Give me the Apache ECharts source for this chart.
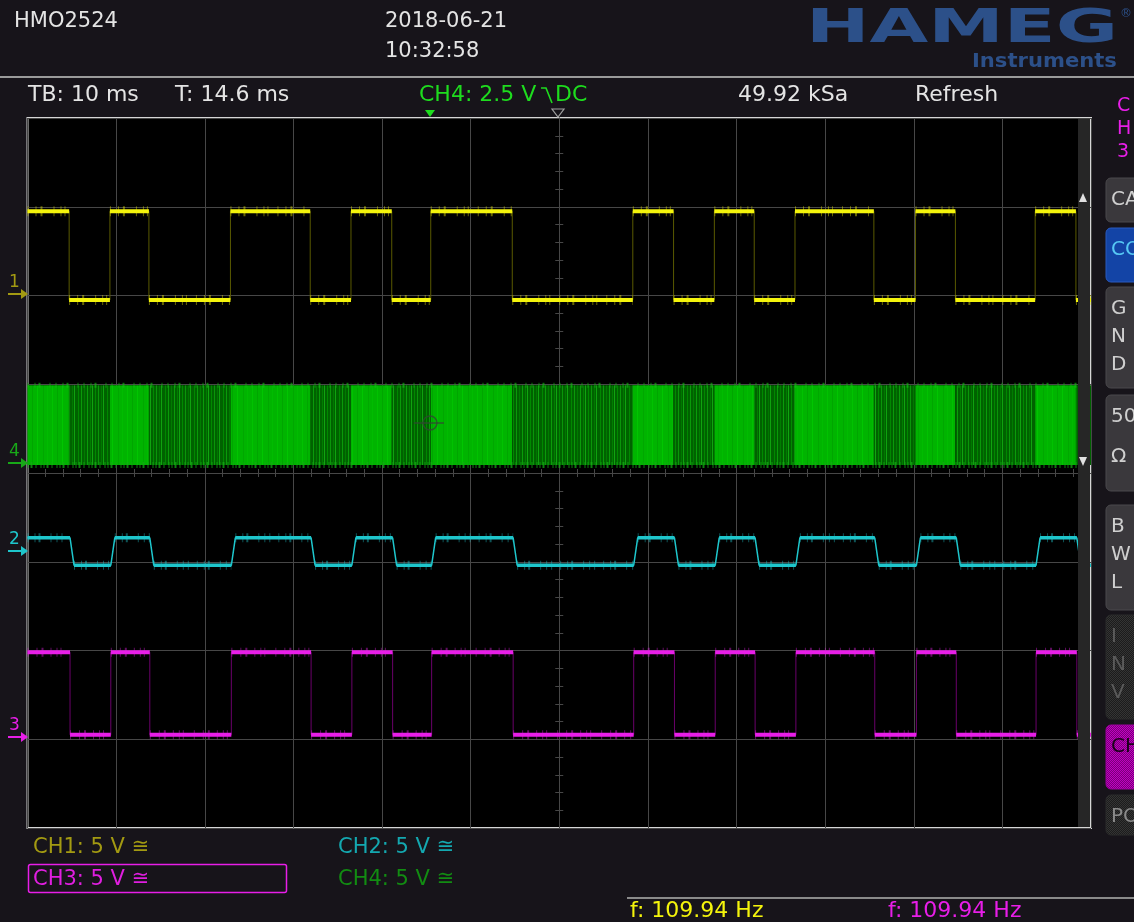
<!DOCTYPE html>
<html>
<head>
<meta charset="utf-8">
<script src="https://cdn.jsdelivr.net/npm/echarts@6/dist/echarts.min.js"></script>
<style>
  html, body { margin: 0; padding: 0; background: #17141a; }
  #scope { width: 1134px; height: 922px; }
</style>
</head>
<body>
<div id="scope"></div>
<script>
// ---- acquisition window (time in ms relative to the trigger) ----
const timeStartMs = -45.4;
const timeEndMs = 74.6;
const gridDivsX = [-6, 6];
const gridDivsY = [-4, 4];

// ---- CH1 (yellow): edge times in ms, levels in screen divisions [high, low] ----
const ch1Edges = [-40.7, -36.1, -31.7, -22.5, -13.5, -8.9, -4.3, 0.1, 9.3, 22.9, 27.5, 32.1, 36.6, 41.2, 50.1, 54.8, 59.3, 68.3, 72.9];
const ch1Levels = [2.95, 1.95];
const ch1StartsHigh = true;

// ---- CH2 (cyan): filtered copy, finite slew ----
const ch2Edges = [-40.6, -36.0, -31.6, -22.4, -13.4, -8.8, -4.2, 0.2, 9.4, 23.0, 27.6, 32.2, 36.7, 41.3, 50.2, 54.9, 59.4, 68.4, 73.0];
const ch2Levels = [-0.73, -1.04];
const ch2StartsHigh = true;
const ch2SlewMs = 0.45;

// ---- CH3 (magenta) ----
const ch3Edges = [-40.6, -36.0, -31.6, -22.4, -13.4, -8.8, -4.2, 0.2, 9.4, 23.0, 27.6, 32.2, 36.7, 41.3, 50.2, 54.9, 59.4, 68.4, 73.0];
const ch3Levels = [-2.02, -2.95];
const ch3StartsHigh = true;

// ---- CH4 (green): carrier bursts, band [bottom, top] in divisions ----
const ch4Edges = [-40.7, -36.1, -31.7, -22.5, -13.5, -8.9, -4.3, 0.1, 9.3, 22.9, 27.5, 32.1, 36.6, 41.2, 50.1, 54.8, 59.3, 68.3, 72.9];
const ch4Band = [0.09, 0.99];
const ch4StartsSparse = true;

// ---- readouts ----
const headerModel = 'HMO2524';
const headerDate = '2018-06-21';
const headerTime = '10:32:58';
const readTimebase = 'TB: 10 ms';
const readTrigOffset = 'T: 14.6 ms';
const readTrigSource = 'CH4: 2.5 V';
const readCoupling = 'DC';
const readSampleRate = '49.92 kSa';
const readMode = 'Refresh';
const channelScales = ['CH1: 5 V \u2245', 'CH2: 5 V \u2245', 'CH3: 5 V \u2245', 'CH4: 5 V \u2245'];
const freqReadouts = ['f: 109.94 Hz', 'f: 109.94 Hz'];

// ---- colours ----
const COL = {
  bg: '#17141a', plot: '#000000', grid: '#474747', frame: '#d6d6d6', text: '#e4e4e4',
  ch1: '#f4f40c', ch1Dim: '#5a5a00', ch1Label: '#a39a12',
  ch2: '#1ec6cc', ch2Label: '#14a8b0',
  ch3: '#e81ee8', ch3Dim: '#6a006a', ch3Label: '#e01ee0',
  ch4Head: '#1edc1e', ch4Label: '#128c12', ch4Marker: '#18a818',
  brand: '#2c5089'
};

// split an edge list into constant-level segments
function toSegments(edges, startsHigh) {
  const b = [timeStartMs].concat(edges, [timeEndMs]);
  const segs = [];
  for (let i = 0; i < b.length - 1; i++) {
    segs.push({ from: b[i], to: b[i + 1], high: (i % 2 === 0) === startsHigh });
  }
  return segs;
}
function stepPoints(segs, levels, slew) {
  const pts = [];
  segs.forEach(function (s, i) {
    const y = s.high ? levels[0] : levels[1];
    pts.push([i === 0 ? s.from : s.from + slew, y], [s.to, y]);
  });
  return pts;
}
function levelPoints(segs, levels, slew) {
  const pts = [];
  segs.forEach(function (s, i) {
    const y = s.high ? levels[0] : levels[1];
    pts.push([i === 0 ? s.from : s.from + slew, y], [s.to, y], [s.to, '-']);
  });
  return pts;
}

const ch1Segs = toSegments(ch1Edges, ch1StartsHigh);
const ch2Segs = toSegments(ch2Edges, ch2StartsHigh);
const ch3Segs = toSegments(ch3Edges, ch3StartsHigh);
const ch4Segs = toSegments(ch4Edges, !ch4StartsSparse);

// stripe tiles that give the carrier bursts their texture
function stripeTile(base, stripes, width) {
  const c = document.createElement('canvas');
  c.width = width; c.height = 8;
  const g = c.getContext('2d');
  g.fillStyle = base; g.fillRect(0, 0, width, 8);
  stripes.forEach(function (s) { g.fillStyle = s[2]; g.fillRect(s[0], 0, s[1], 8); });
  return c;
}
function checkerTile(a, b) {
  const c = document.createElement('canvas');
  c.width = 2; c.height = 2;
  const g = c.getContext('2d');
  g.fillStyle = a; g.fillRect(0, 0, 2, 2);
  g.fillStyle = b; g.fillRect(0, 0, 1, 1); g.fillRect(1, 1, 1, 1);
  return c;
}
const sparseFill = { image: stripeTile('#006200', [[0,1,'#0a9c0a'],[3,1,'#007e00'],[5,1,'#10a410'],[8,1,'#008a00'],[11,1,'#0a960a'],[14,1,'#007800'],[16,1,'#0fa20f'],[20,1,'#008800'],[23,1,'#0a9a0a'],[26,1,'#007c00']], 29), repeat: 'repeat' };
const denseFill = { image: stripeTile('#00b400', [[2,1,'#00c200'],[7,1,'#00a600'],[12,1,'#00c600'],[18,1,'#00a800'],[22,1,'#00bc00']], 25), repeat: 'repeat' };
const dotGrey = { image: checkerTile('#1c1c1c', '#343434'), repeat: 'repeat' };
const dotMagenta = { image: checkerTile('#7a007a', '#c000c0'), repeat: 'repeat' };

const lineBase = {
  type: 'line', xAxisIndex: 2, yAxisIndex: 0, symbol: 'none', silent: true,
  animation: false, connectNulls: false, clip: true, emphasis: { disabled: true }
};
function lineSeries(name, data, color, width, extra) {
  return Object.assign({}, lineBase, { name: name, data: data, lineStyle: Object.assign({ color: color, width: width }, extra || {}) });
}

const series = [
  {
    name: 'CH4 band', type: 'custom', xAxisIndex: 2, yAxisIndex: 0, silent: true, animation: false,
    encode: { x: [0, 1], y: 2 },
    data: ch4Segs.map(function (s) { return [s.from, s.to, s.high ? 0 : 1]; }),
    renderItem: function (params, api) {
      const a = api.coord([api.value(0), ch4Band[1]]);
      const b = api.coord([api.value(1), ch4Band[0]]);
      return { type: 'rect', shape: { x: a[0], y: a[1], width: b[0] - a[0], height: b[1] - a[1] },
               style: { fill: api.value(2) ? denseFill : sparseFill } };
    }
  },
  lineSeries('CH4 top', [[timeStartMs, ch4Band[1]], [timeEndMs, ch4Band[1]]], 'rgba(20,190,20,0.6)', 5, { type: [1, 6, 1, 3, 2, 9, 1, 5] }),
  lineSeries('CH4 bottom', [[timeStartMs, ch4Band[0]], [timeEndMs, ch4Band[0]]], 'rgba(20,170,20,0.75)', 6, { type: [1, 2, 2, 3, 1, 4, 1, 2] }),

  lineSeries('CH1 edges', stepPoints(ch1Segs, ch1Levels, 0), COL.ch1Dim, 1),
  lineSeries('CH1 noise', levelPoints(ch1Segs, ch1Levels, 0), 'rgba(240,240,10,0.42)', 10, { type: [1, 7, 1, 4, 2, 11, 1, 6, 1, 3, 1, 9] }),
  lineSeries('CH1', levelPoints(ch1Segs, ch1Levels, 0), COL.ch1, 4),

  lineSeries('CH2 edges', stepPoints(ch2Segs, ch2Levels, ch2SlewMs), COL.ch2, 1.5),
  lineSeries('CH2 noise', levelPoints(ch2Segs, ch2Levels, ch2SlewMs), 'rgba(30,198,204,0.42)', 9, { type: [1, 6, 1, 3, 2, 10, 1, 5, 1, 4, 1, 8] }),
  lineSeries('CH2', levelPoints(ch2Segs, ch2Levels, ch2SlewMs), COL.ch2, 3.5),

  lineSeries('CH3 edges', stepPoints(ch3Segs, ch3Levels, 0), COL.ch3Dim, 1),
  lineSeries('CH3 noise', levelPoints(ch3Segs, ch3Levels, 0), 'rgba(232,30,232,0.42)', 9, { type: [1, 8, 1, 4, 2, 7, 1, 5, 1, 3, 1, 10] }),
  lineSeries('CH3', levelPoints(ch3Segs, ch3Levels, 0), COL.ch3, 4)
];

const divAxisCommon = {
  type: 'value', interval: 1, silent: true,
  axisLabel: { show: false },
  axisLine: { show: true, onZero: true, onZeroAxisIndex: 0, lineStyle: { color: COL.grid, width: 1 } },
  axisTick: { show: true, length: 4, lineStyle: { color: COL.grid } },
  minorTick: { show: true, splitNumber: 5, length: 4, lineStyle: { color: COL.grid } }
};

// ---- screen furniture ----
const FONT = 'DejaVu Sans';
function txt(x, y, text, fill, size, extra) {
  return Object.assign({ type: 'text', x: x, y: y, z: 30, silent: true,
    style: { text: text, fill: fill, fontFamily: FONT, fontSize: size, verticalAlign: 'middle', align: 'left' } }, extra || {});
}
function rect(x, y, w, h, fill, extra) {
  return Object.assign({ type: 'rect', z: 25, silent: true, shape: { x: x, y: y, width: w, height: h }, style: { fill: fill } }, extra || {});
}
function chanMarker(label, y, color) {
  return [
    txt(9, y - 11, label, color, 17),
    { type: 'polyline', z: 30, silent: true, shape: { points: [[8, y], [24, y]] }, style: { stroke: color, lineWidth: 2 } },
    { type: 'polygon', z: 30, silent: true, shape: { points: [[21, y - 5], [28, y], [21, y + 5]] }, style: { fill: color } }
  ];
}
function button(y, h, fill, stroke, lines, textFill, step) {
  const els = [rect(1106, y, 40, h, fill, { shape: { x: 1106, y: y, width: 40, height: h, r: 5 }, style: { fill: fill, stroke: stroke, lineWidth: 1 } })];
  lines.forEach(function (t, i) { els.push(txt(1111, y + 22 + i * step, t, textFill, 20)); });
  return els;
}

const graphic = [
  // header
  txt(14, 22, headerModel, COL.text, 21),
  txt(385, 22, headerDate, COL.text, 21),
  txt(385, 52, headerTime, COL.text, 21),
  txt(806, 30, 'HAMEG', COL.brand, 46, { scaleX: 1.65, style: { text: 'HAMEG', fill: COL.brand, fontFamily: FONT, fontSize: 46, fontWeight: 'bold', verticalAlign: 'middle' } }),
  txt(1120, 14, '\u00ae', COL.brand, 12),
  txt(972, 62, 'Instruments', COL.brand, 19, { scaleX: 1.11, style: { text: 'Instruments', fill: COL.brand, fontFamily: FONT, fontSize: 19, fontWeight: 'bold', verticalAlign: 'middle' } }),
  rect(0, 76, 1134, 2, '#9a9a9a'),

  // info line
  txt(28, 95, readTimebase, COL.text, 22),
  txt(175, 95, readTrigOffset, COL.text, 22),
  txt(419, 95, readTrigSource, COL.ch4Head, 22),
  { type: 'polyline', z: 30, silent: true, shape: { points: [[541, 88], [546, 88], [552, 103]] }, style: { stroke: COL.ch4Head, lineWidth: 1.6, fill: null } },
  txt(555, 95, readCoupling, COL.ch4Head, 22),
  txt(738, 95, readSampleRate, COL.text, 22),
  txt(915, 95, readMode, COL.text, 22),
  txt(1117, 106, 'C', COL.ch3, 19),
  txt(1117, 129, 'H', COL.ch3, 19),
  txt(1117, 152, '3', COL.ch3, 19),

  // trigger position / centre markers above the graticule
  { type: 'polygon', z: 30, silent: true, shape: { points: [[425, 110], [435, 110], [430, 117]] }, style: { fill: COL.ch4Head } },
  { type: 'polygon', z: 30, silent: true, shape: { points: [[552, 109], [564, 109], [558, 117]] }, style: { fill: null, stroke: '#a0a0a0', lineWidth: 1.2 } },

  // trigger level marker on CH4
  { type: 'circle', z: 30, silent: true, shape: { cx: 430, cy: 423, r: 7 }, style: { fill: null, stroke: 'rgba(50,70,50,0.8)', lineWidth: 1.5 } },
  { type: 'polyline', z: 30, silent: true, shape: { points: [[414, 423], [444, 423]] }, style: { stroke: 'rgba(50,70,50,0.8)', lineWidth: 1.5 } },

  // right-hand scroll strip inside the graticule
  rect(1078, 119, 12, 708, '#262626'),
  { type: 'polygon', z: 30, silent: true, shape: { points: [[1079, 202], [1087, 202], [1083, 193]] }, style: { fill: '#e0e0e0' } },
  { type: 'polygon', z: 30, silent: true, shape: { points: [[1079, 457], [1087, 457], [1083, 466]] }, style: { fill: '#e0e0e0' } }
]
.concat(chanMarker('1', 294, COL.ch1Label))
.concat(chanMarker('4', 463, COL.ch4Marker))
.concat(chanMarker('2', 551, COL.ch2))
.concat(chanMarker('3', 737, COL.ch3))
// side soft-key menu
.concat(button(178, 44, '#3a383c', '#4a484c', ['CA'], '#cfcfcf', 0))
.concat(button(228, 54, '#1344a6', '#2a5ac0', ['CO'], '#56c8f4', 0))
.concat(button(287, 101, '#3a383c', '#4a484c', ['G', 'N', 'D'], '#cfcfcf', 28))
.concat(button(395, 96, '#3a383c', '#4a484c', ['50', '\u03a9'], '#cfcfcf', 40))
.concat(button(505, 105, '#3a383c', '#4a484c', ['B', 'W', 'L'], '#cfcfcf', 28))
.concat(button(615, 104, dotGrey, '#2a2a2a', ['I', 'N', 'V'], '#5a5a5a', 28))
.concat(button(725, 64, dotMagenta, '#9a009a', ['CH'], '#1a001a', 0))
.concat(button(795, 40, dotGrey, '#2a2a2a', ['PO'], '#8a8a8a', 0))
.concat([
  // channel scale readouts
  txt(33, 848, channelScales[0], COL.ch1Label, 21),
  txt(338, 848, channelScales[1], COL.ch2Label, 21),
  txt(33, 880, channelScales[2], COL.ch3Label, 21),
  txt(338, 880, channelScales[3], COL.ch4Label, 21),
  { type: 'rect', z: 30, silent: true, shape: { x: 28.5, y: 864.5, width: 258, height: 28, r: 2 }, style: { fill: null, stroke: COL.ch3, lineWidth: 1.5 } },
  rect(627, 897, 507, 2, '#8a8a8a'),
  txt(630, 911, freqReadouts[0], COL.ch1, 22),
  txt(888, 911, freqReadouts[1], COL.ch3, 22)
]);

const chart = echarts.init(document.getElementById('scope'), null, { renderer: 'canvas' });
chart.setOption({
  backgroundColor: COL.bg,
  animation: false,
  grid: {
    left: 27.5, top: 118, width: 1063.5, height: 710,
    show: true, backgroundColor: COL.plot, borderColor: COL.frame, borderWidth: 2,
    containLabel: false, outerBoundsMode: 'none'
  },
  xAxis: [
    Object.assign({}, divAxisCommon, { min: gridDivsX[0], max: gridDivsX[1], position: 'bottom',
      splitLine: { show: true, lineStyle: { color: COL.grid, width: 1 } } }),
    Object.assign({}, divAxisCommon, { min: gridDivsX[0], max: gridDivsX[1], position: 'top',
      splitLine: { show: false } }),
    { type: 'value', min: timeStartMs, max: timeEndMs, show: false, axisLine: { onZero: false } }
  ],
  yAxis: [
    Object.assign({}, divAxisCommon, { min: gridDivsY[0], max: gridDivsY[1], position: 'left',
      splitLine: { show: true, lineStyle: { color: COL.grid, width: 1 } } }),
    Object.assign({}, divAxisCommon, { min: gridDivsY[0], max: gridDivsY[1], position: 'right',
      splitLine: { show: false } })
  ],
  series: series,
  graphic: graphic
});
</script>
</body>
</html>
